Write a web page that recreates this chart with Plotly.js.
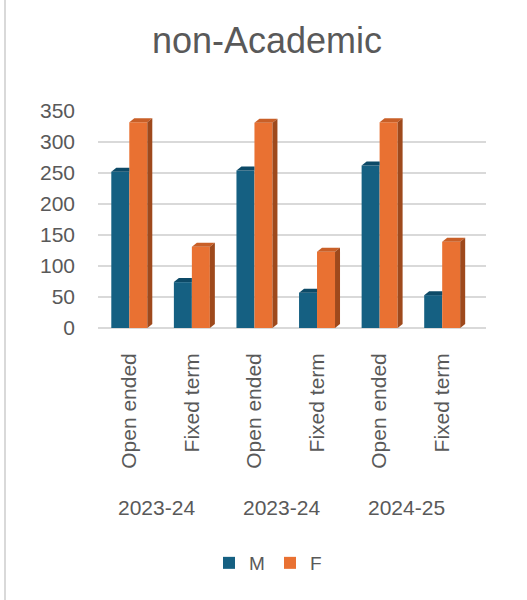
<!DOCTYPE html>
<html><head><meta charset="utf-8">
<script src="https://cdn.plot.ly/plotly-3.0.1.min.js"></script>
<style>
body{margin:0;background:#fff}
#wrap{position:relative;width:527px;height:600px}
#chart{width:527px;height:600px}
#edge{position:absolute;left:4px;top:0;width:2px;height:600px;background:#d9d9d9}
</style>
</head><body><div id="wrap"><div id="chart"></div><div id="edge"></div></div>
<script>
// ---- data ----
const contractTypes = ["Open ended","Fixed term","Open ended","Fixed term","Open ended","Fixed term"];
const yearLabels = ["2023-24","2023-24","2024-25"];
const seriesNames = ["M","F"];
const maleValues = [252, 74, 254, 57, 262, 53];
const femaleValues = [332, 131, 331, 123, 332, 139];

// ---- style ----
const frontColors = ["#156082", "#E97132"];
const topColors = ["#0d4a67", "#c95f27"];
const sideColors = ["#0b3c53", "#9e491c"];
const textColor = "#595959";
const fontFam = "Liberation Sans, Arial, sans-serif";

const W = 527, H = 600;
const margin = {l: 98, r: 41, t: 111, b: 272};
const xMin = -0.5, xMax = 5.7;
const yMax = 350;
const bargap = 0.425;
const plotW = W - margin.l - margin.r;
const plotH = H - margin.t - margin.b;
const pxPerUnit = plotW / (xMax - xMin);
const barW = (1 - bargap) / 2;          // data units per bar
const barPx = barW * pxPerUnit;         // pixels per bar
const depthX = 5, depthYpx = 4;
const depthY = depthYpx * yMax / plotH; // depth in data units

const idx = contractTypes.map((_, i) => i);
const allSeries = [maleValues, femaleValues];

const traces = allSeries.map((vals, s) => ({
  type: "bar", name: seriesNames[s], x: idx, y: vals,
  marker: {color: frontColors[s], line: {width: 0}},
  hoverinfo: "y+name"
}));

// pseudo-3D faces anchored on the data values via the axes
const shapes = [];
idx.forEach(i => {
  allSeries.forEach((vals, s) => {
    const v = vals[i];
    const left = i - (s === 0 ? barW : 0);
    const other = allSeries[1 - s][i];
    const hiddenRight = (s === 0 && other >= v);
    const topRight = hiddenRight ? barPx : barPx + depthX;
    shapes.push({
      type: "path", xref: "x", yref: "y", xsizemode: "pixel", xanchor: left,
      path: `M0,${v} L${depthX},${v + depthY} L${topRight},${v + depthY} L${barPx},${v} Z`,
      fillcolor: topColors[s], line: {width: 0}, layer: "above"
    });
    if (!hiddenRight) {
      shapes.push({
        type: "path", xref: "x", yref: "y", xsizemode: "pixel", xanchor: left,
        path: `M${barPx},0 L${barPx + depthX},${depthY} L${barPx + depthX},${v + depthY} L${barPx},${v} Z`,
        fillcolor: sideColors[s], line: {width: 0}, layer: "above"
      });
    }
  });
});

const annotations = yearLabels.map((t, g) => ({
  text: t, xref: "x", yref: "paper", x: 2 * g + 0.5, xshift: -4,
  y: (0 - (507 - (H - margin.b))) / plotH, yanchor: "middle", xanchor: "center",
  showarrow: false, font: {family: fontFam, size: 21, color: textColor}
}));

const layout = {
  width: W, height: H, margin: margin,
  paper_bgcolor: "#fff", plot_bgcolor: "#fff",
  title: {text: "non-Academic", font: {family: fontFam, size: 36, color: textColor},
          xref: "container", x: 267 / W, xanchor: "center", yref: "container", y: 1 - 40 / H, yanchor: "middle"},
  barmode: "group", bargap: bargap, bargroupgap: 0,
  xaxis: {range: [xMin, xMax], tickmode: "array", tickvals: idx, ticktext: contractTypes,
          tickangle: -90, showgrid: false, zeroline: false, showline: false, ticks: "",
          ticklabelstandoff: 20, fixedrange: true,
          tickfont: {family: fontFam, size: 21, color: textColor}},
  yaxis: {range: [0, yMax], dtick: 50, tick0: 0, showgrid: true, gridcolor: "#d9d9d9", gridwidth: 1.5,
          zeroline: true, zerolinecolor: "#d9d9d9", zerolinewidth: 1.5, showline: false, ticks: "",
          ticklabelstandoff: 22, fixedrange: true,
          tickfont: {family: fontFam, size: 21, color: textColor}},
  legend: {orientation: "h", x: (270 - margin.l) / plotW, xanchor: "center",
           y: (0 - (563 - (H - margin.b))) / plotH, yanchor: "middle",
           font: {family: fontFam, size: 19, color: textColor}, itemwidth: 30,
           entrywidth: 16, entrywidthmode: "pixels"},
  shapes: shapes, annotations: annotations, showlegend: true
};

Plotly.newPlot("chart", traces, layout, {displayModeBar: false, staticPlot: true});
</script>
</body></html>
